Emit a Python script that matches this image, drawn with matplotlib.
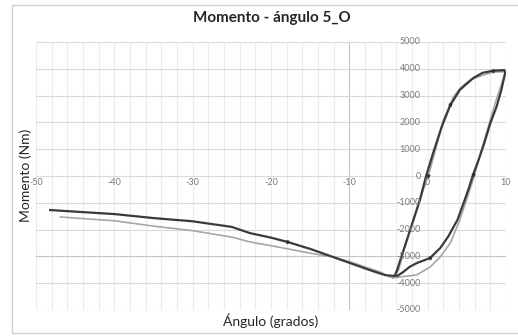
import numpy as np
import matplotlib.pyplot as plt
from matplotlib.patches import Rectangle

plt.rcParams['font.family'] = ['Lato', 'DejaVu Sans']

# experimental curve (dark)
exp_ang = [-48.2, -45, -40, -35, -30, -25, -22.7, -20, -17.9, -15, -12.1, -9.9, -7.5, -5.4, -4.2,
           -3.9, -3.0, -2.0, -1.0, -0.2, 0.7, 1.8, 2.9, 4.1, 5.8, 7.0, 8.4, 9.8,
           9.9, 9.4, 8.8, 8.0, 7.2, 6.5, 5.8, 5.2, 4.6, 3.8, 2.6, 1.6, 0.3, -1.4, -2.3, -3.2, -3.9]
exp_mom = [-1270, -1330, -1420, -1570, -1690, -1900, -2130, -2300, -2460, -2720, -3020, -3250, -3500, -3700, -3730,
           -3500, -2700, -1800, -900, 0, 860, 1840, 2650, 3210, 3650, 3850, 3930, 3950,
           3850, 3200, 2590, 1970, 1200, 600, 50, -500, -1000, -1640, -2270, -2690, -3060, -3250, -3390, -3600, -3730]

# model curve (light)
mod_ang = [-46.9, -40, -35, -30, -25, -22.7, -20, -15, -12.1, -9.9, -6.1, -4.8, -4.4,
           -1.4, 0.3, 1.6, 2.9, 4.1, 5.8, 6.6, 7.6, 8.6, 9.4, 9.9,
           8.4, 7.0, 5.4, 4.2, 3.3, 2.0, 0.3, -1.0, -2.0, -3.0, -3.7, -4.4]
mod_mom = [-1530, -1670, -1870, -2040, -2280, -2460, -2600, -2880, -3020, -3200, -3580, -3770, -3800,
           -3690, -3400, -3020, -2500, -1640, -150, 700, 1700, 2700, 3400, 3890,
           3880, 3760, 3580, 3300, 2950, 2090, 220, -900, -1800, -2700, -3500, -3800]

# little marks along the experimental curve
mark_ang = [-17.9, 0.0, 2.9, 8.4, 5.8, 0.3]
mark_mom = [-2460, 0, 2650, 3930, 50, -3060]

fig = plt.figure(figsize=(5.18, 3.36), dpi=100)
fig.patches.append(Rectangle((12 / 518, 3 / 336), 1.0, 1 - 8 / 336, transform=fig.transFigure,
                             fill=False, edgecolor='#d0d0d0', linewidth=1))
ax = fig.add_axes([36 / 518, 1 - 310 / 336, 470 / 518, 268 / 336])

ax.set_xlim(-50, 10)
ax.set_ylim(-5000, 5000)

for x in np.arange(-50, 11, 2):
    ax.axvline(x, color='#c4c4c4' if x == -10 else '#ebebeb', lw=0.8, zorder=0)
for y in np.arange(-5000, 5001, 1000):
    ax.axhline(y, color='#c4c4c4' if y == -3000 else '#dadada', lw=0.8, zorder=0)

ax.plot(mod_ang, mod_mom, color='#a6a6a6', lw=1.2, zorder=2)
ax.plot(exp_ang, exp_mom, color='#3a3a3a', lw=1.6, zorder=3)
ax.plot(mark_ang, mark_mom, ls='none', marker='v', ms=2, color='#303030', zorder=4)

for s in ax.spines.values():
    s.set_visible(False)
ax.set_xticks([])
ax.set_yticks([])

lab = dict(fontsize=6.5, color='#7a7a7a')
for x in range(-50, 11, 10):
    ax.text(x, -240, str(x), ha='center', va='center', **lab)
for y in range(-5000, 5001, 1000):
    ax.text(-0.9, y, str(y), ha='right', va='center', **lab)

fig.text(272 / 518, 1 - 18 / 336, 'Momento - ángulo 5_O', ha='center', va='center',
         fontsize=11, fontweight='bold', color='#262626')
fig.text(271 / 518, 1 - 321 / 336, 'Ángulo (grados)', ha='center', va='center',
         fontsize=10, color='#262626')
fig.text(26 / 518, 1 - 175 / 336, 'Momento (Nm)', ha='center', va='center', rotation=90,
         fontsize=10, color='#262626')

fig.savefig('out.png', dpi=100)
